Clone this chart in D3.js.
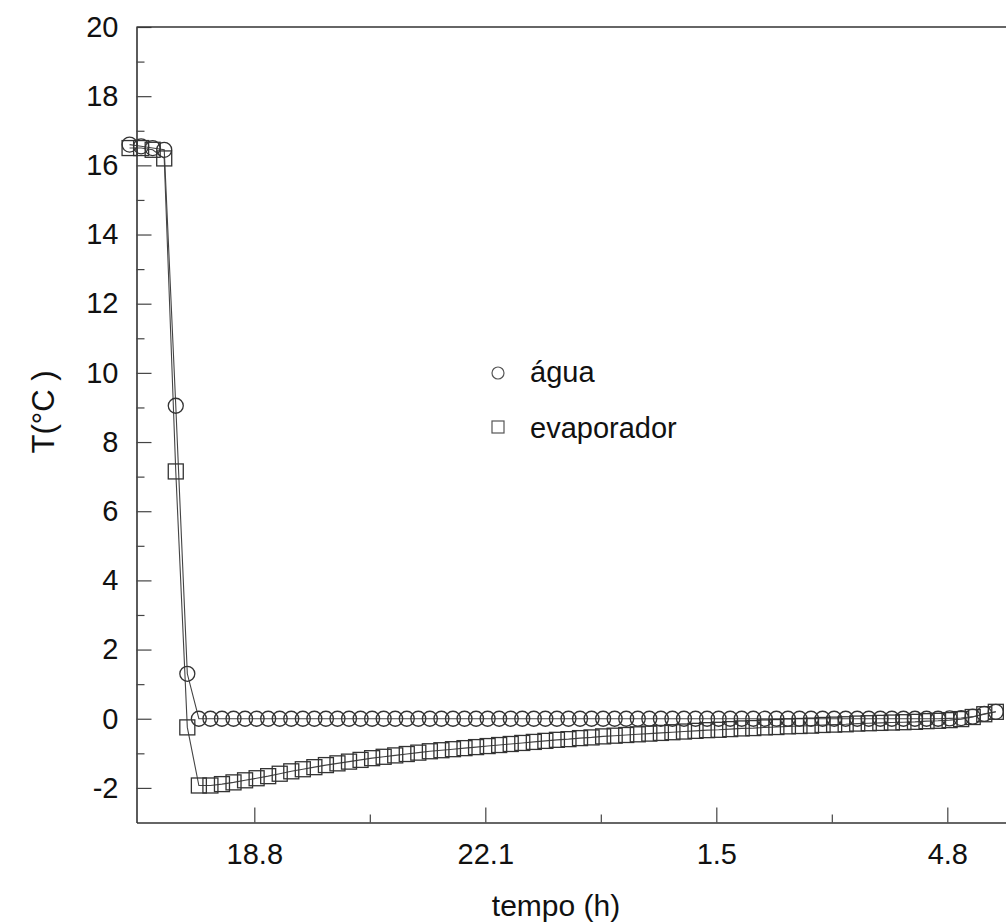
<!DOCTYPE html>
<html>
<head>
<meta charset="utf-8">
<script src="https://cdn.jsdelivr.net/npm/d3@7"></script>
<style>
  body { margin: 0; background: #fff; }
  svg { display: block; font-family: "Liberation Sans", Arial, sans-serif; }
</style>
</head>
<body>
<div id="plot_area"></div>
<script>
// readings every 10 minutes starting 17.0 h
var startHour = 17.0,
    stepHours = 1 / 6;

var agua = [16.6, 16.55, 16.5, 16.45, 9.05, 1.3,
  0, 0, 0, 0, 0, 0, 0, 0, 0, 0, 0, 0, 0, 0, 0, 0, 0, 0, 0, 0, 0, 0,
  0, 0, 0, 0, 0, 0, 0, 0, 0, 0, 0, 0, 0, 0, 0, 0, 0, 0, 0, 0, 0, 0,
  0, 0, 0, 0, 0, 0, 0, 0, 0, 0, 0, 0, 0, 0, 0, 0, 0, 0, 0, 0,
  0, 0.01, 0.02, 0.06, 0.14, 0.2];

var evaporador = [16.5, 16.5, 16.45, 16.2, 7.15, -0.25,
  -1.93, -1.93, -1.89, -1.84, -1.78, -1.72, -1.66, -1.59, -1.52, -1.46,
  -1.40, -1.34, -1.29, -1.24, -1.19, -1.14, -1.10, -1.06, -1.02, -0.98,
  -0.94, -0.91, -0.88, -0.85, -0.82, -0.79, -0.76, -0.73, -0.70, -0.67,
  -0.64, -0.61, -0.59, -0.56, -0.54, -0.51, -0.49, -0.47, -0.45, -0.43,
  -0.41, -0.39, -0.37, -0.35, -0.33, -0.32, -0.30, -0.28, -0.27, -0.25,
  -0.24, -0.22, -0.21, -0.20, -0.18, -0.17, -0.16, -0.14, -0.13, -0.12,
  -0.11, -0.10, -0.09, -0.07, -0.06, -0.04, -0.01, 0.05, 0.13, 0.20];

var xMajor = [18.8, 22.1333, 25.4667, 28.8],
    xMinor = [20.4667, 23.8, 27.1333],
    yMajor = [-2, 0, 2, 4, 6, 8, 10, 12, 14, 16, 18, 20],
    yMinor = [-1, 1, 3, 5, 7, 9, 11, 13, 15, 17, 19];

var seriesNames = ["água", "evaporador"];

var W = 1006, H = 924;
var plotLeft = 136.5, plotBottom = 822.5, plotTop = 27;

var svg = d3.select('#plot_area')
  .append("svg")
    .attr("width", W)
    .attr("height", H)

svg.append("rect").attr("width", W).attr("height", H).attr("fill", "#fff")

var x = d3.scaleLinear()
  .domain([17.1, 29.7])
  .range([plotLeft, plotLeft + 12.6 * 69.3])

var y = d3.scaleLinear()
  .domain([-3, 20])
  .range([plotBottom, plotTop])

// X axis (ticks pointing inwards)
var gx = svg.append("g")
  .attr("transform", "translate(0," + plotBottom + ")")
  .call(d3.axisBottom(x).tickValues(xMajor).tickSize(-15).tickSizeOuter(0).tickPadding(21)
    .tickFormat(function (d) { return (d % 24).toFixed(1) }))
gx.selectAll("text").style("font-size", "29px").attr("fill", "#111")
svg.append("g")
  .attr("transform", "translate(0," + plotBottom + ")")
  .call(d3.axisBottom(x).tickValues(xMinor).tickSize(-8).tickFormat(""))
  .select(".domain").remove()

// Y axis
var gy = svg.append("g")
  .attr("transform", "translate(" + plotLeft + ",0)")
  .call(d3.axisLeft(y).tickValues(yMajor).tickSize(-15).tickSizeOuter(0).tickPadding(18)
    .tickFormat(function (d) { return String(d) }))
gy.selectAll("text").style("font-size", "29px").attr("fill", "#111")
svg.append("g")
  .attr("transform", "translate(" + plotLeft + ",0)")
  .call(d3.axisLeft(y).tickValues(yMinor).tickSize(-8).tickFormat(""))
  .select(".domain").remove()

svg.selectAll(".domain").attr("stroke", "#333").attr("stroke-width", 1.6)
svg.selectAll(".tick line").attr("stroke", "#444").attr("stroke-width", 1.2)

// top frame line
svg.append("line")
  .attr("x1", plotLeft).attr("x2", W)
  .attr("y1", y(20)).attr("y2", y(20))
  .attr("stroke", "#333").attr("stroke-width", 1.6)

// axis titles
svg.append("text")
  .attr("x", 556).attr("y", 916)
  .attr("text-anchor", "middle")
  .style("font-size", "30px").attr("fill", "#111")
  .text("tempo (h)")

svg.append("text")
  .attr("transform", "translate(54,412) rotate(-90)")
  .attr("text-anchor", "middle")
  .style("font-size", "31px").attr("fill", "#111")
  .text("T(°C )")

var tAt = function (i) { return startHour + i * stepHours }

var line = d3.line()
  .x(function (d, i) { return x(tAt(i)) })
  .y(function (d) { return y(d) })

// series lines
svg.append("path").datum(evaporador)
  .attr("d", line).attr("fill", "none").attr("stroke", "#444").attr("stroke-width", 1.1)
svg.append("path").datum(agua)
  .attr("d", line).attr("fill", "none").attr("stroke", "#444").attr("stroke-width", 1.1)

// markers
svg.append("g").selectAll("rect")
  .data(evaporador)
  .enter()
  .append("rect")
    .attr("x", function (d, i) { return x(tAt(i)) - 7.5 })
    .attr("y", function (d) { return y(d) - 7.5 })
    .attr("width", 15).attr("height", 15)
    .attr("fill", "none").attr("stroke", "#333").attr("stroke-width", 1.3)

svg.append("g").selectAll("circle")
  .data(agua)
  .enter()
  .append("circle")
    .attr("cx", function (d, i) { return x(tAt(i)) })
    .attr("cy", function (d) { return y(d) })
    .attr("r", 7.5)
    .attr("fill", "none").attr("stroke", "#333").attr("stroke-width", 1.3)

// legend
var legend = svg.append("g")
legend.append("circle")
  .attr("cx", 498).attr("cy", 373).attr("r", 6)
  .attr("fill", "none").attr("stroke", "#555").attr("stroke-width", 1.2)
legend.append("rect")
  .attr("x", 492).attr("y", 421).attr("width", 12).attr("height", 12)
  .attr("fill", "none").attr("stroke", "#555").attr("stroke-width", 1.2)
legend.selectAll("text")
  .data(seriesNames)
  .enter()
  .append("text")
    .attr("x", 530)
    .attr("y", function (d, i) { return 382 + i * 56 })
    .style("font-size", "29px").attr("fill", "#111")
    .text(function (d) { return d })
</script>
</body>
</html>
